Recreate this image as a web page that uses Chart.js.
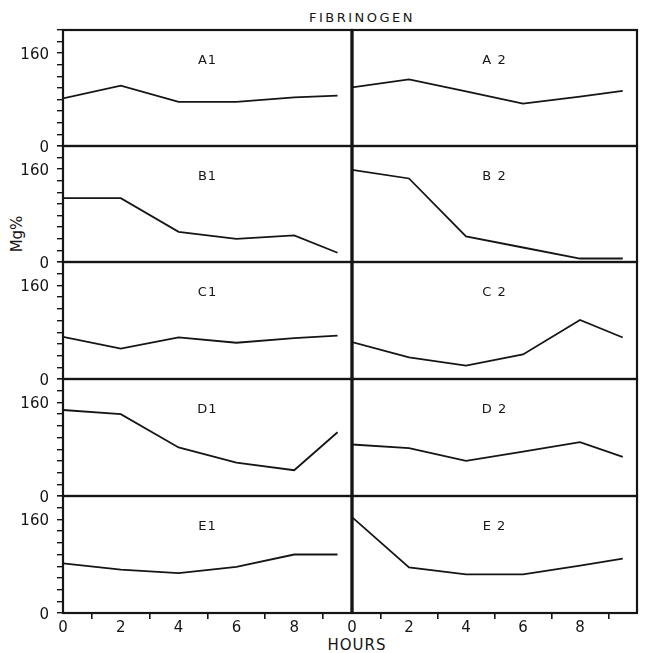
<!DOCTYPE html>
<html>
<head>
<meta charset="utf-8">
<script src="https://cdn.jsdelivr.net/npm/chart.js@4.4.0/dist/chart.umd.min.js"></script>
<style>
  body { margin: 0; background: #fff; }
  #wrap { position: relative; width: 646px; height: 653px; font-family: "DejaVu Sans", sans-serif; color: #151515; overflow: hidden; }
  #wrap canvas { position: absolute; }
  .txt { position: absolute; white-space: nowrap; transform: translate(-50%, -50%); }
  #title { left: 362px; top: 17px; font-size: 13px; letter-spacing: 2.5px; }
  #xlab { left: 357px; top: 645px; font-size: 15px; letter-spacing: 1px; }
  #ylab { left: 17px; top: 234px; font-size: 15px; transform: translate(-50%, -50%) rotate(-90deg); }
</style>
</head>
<body>
<div id="wrap">
  <div class="txt" id="title">FIBRINOGEN</div>
  <div class="txt" id="ylab">Mg%</div>
  <div class="txt" id="xlab">HOURS</div>
</div>
<script>
// sampling times (hours)
const hours = [0, 2, 4, 6, 8, 9.5];

// fibrinogen, mg% - left column (1) and right column (2)
const seriesA1 = [82, 104, 76, 76, 84, 87];
const seriesA2 = [101, 115, 94, 73, 85, 95];
const seriesB1 = [110, 110, 52, 40, 46, 16];
const seriesB2 = [159, 144, 44, 25, 6, 6];
const seriesC1 = [72, 52, 71, 62, 70, 74];
const seriesC2 = [63, 37, 23, 42, 101, 71];
const seriesD1 = [147, 140, 83, 57, 44, 109];
const seriesD2 = [88, 82, 60, 76, 92, 67];
const seriesE1 = [85, 74, 68, 79, 100, 100];
const seriesE2 = [164, 78, 66, 66, 81, 93];

const panelLabels = [["A1", "A 2"], ["B1", "B 2"], ["C1", "C 2"], ["D1", "D 2"], ["E1", "E 2"]];
const panelSeries = [
    [seriesA1, seriesA2],
    [seriesB1, seriesB2],
    [seriesC1, seriesC2],
    [seriesD1, seriesD2],
    [seriesE1, seriesE2]
];
const yLabelValues = [0, 160];
const xLabelValues = [0, 2, 4, 6, 8];

// layout of the figure
const rowEdges = [30, 146, 262, 379, 496, 613];
const leftX = 63;
const midX = 352;
const rightX = 637;
const pad = 20;
const xAxisH = 40;
const fontFamily = '"DejaVu Sans", sans-serif';
const ink = '#151515';

const framePlugin = {
    id: 'frame',
    afterDraw(chart, args, opts) {
        const { ctx, chartArea: a } = chart;
        ctx.save();
        ctx.strokeStyle = ink;
        ctx.lineWidth = 2.2;
        ctx.strokeRect(a.left, a.top, a.right - a.left, a.bottom - a.top);
        if (opts.col === 1) {
            ctx.lineWidth = 3.2;
            ctx.beginPath();
            ctx.moveTo(a.left, a.top - 1);
            ctx.lineTo(a.left, a.bottom + 1);
            ctx.stroke();
        }
        ctx.fillStyle = ink;
        ctx.font = '13px ' + fontFamily;
        ctx.letterSpacing = '1px';
        ctx.textAlign = 'center';
        ctx.textBaseline = 'middle';
        ctx.fillText(opts.label, (a.left + a.right) / 2, a.top + 31);
        ctx.restore();
    }
};

function makePanel(row, col) {
    const wrap = document.getElementById('wrap');
    const canvas = document.createElement('canvas');
    const bottomRow = row === rowEdges.length - 2;
    const rowH = rowEdges[row + 1] - rowEdges[row];

    const left = col === 0 ? 0 : midX - pad;
    const width = col === 0 ? midX + pad : rightX - midX + 2 * pad;
    const top = rowEdges[row] - pad;
    const height = rowH + pad + (bottomRow ? xAxisH : pad);

    canvas.width = width;
    canvas.height = height;
    canvas.style.left = left + 'px';
    canvas.style.top = top + 'px';
    canvas.style.width = width + 'px';
    canvas.style.height = height + 'px';
    wrap.appendChild(canvas);

    const values = panelSeries[row][col];

    new Chart(canvas.getContext('2d'), {
        type: 'line',
        data: {
            datasets: [{
                data: hours.map((h, i) => ({ x: h, y: values[i] })),
                borderColor: ink,
                borderWidth: 1.8,
                pointRadius: 0,
                tension: 0,
                fill: false
            }]
        },
        options: {
            responsive: false,
            animation: false,
            layout: {
                padding: {
                    left: col === 0 ? 0 : pad,
                    right: pad,
                    top: pad,
                    bottom: bottomRow ? 0 : pad
                }
            },
            plugins: {
                legend: { display: false },
                tooltip: { enabled: false },
                frame: { label: panelLabels[row][col], col: col }
            },
            scales: {
                x: {
                    type: 'linear',
                    min: 0,
                    max: 10,
                    display: bottomRow,
                    afterFit: (s) => { if (bottomRow) s.height = xAxisH; },
                    border: { display: false },
                    grid: {
                        drawOnChartArea: false,
                        tickLength: 6,
                        lineWidth: 1.6,
                        color: (c) => (c.tick && c.tick.value % 2 === 1) ? ink : 'rgba(0,0,0,0)'
                    },
                    ticks: {
                        stepSize: 1,
                        autoSkip: false,
                        maxRotation: 0,
                        padding: 0,
                        color: ink,
                        font: { size: 15, family: fontFamily },
                        callback: (v) => xLabelValues.includes(v) ? String(v) : ''
                    }
                },
                y: {
                    min: 0,
                    max: 200,
                    display: col === 0,
                    afterFit: (s) => { if (col === 0) s.width = leftX; },
                    border: { display: false },
                    grid: {
                        drawOnChartArea: false,
                        tickLength: 6,
                        lineWidth: 1.4,
                        color: ink
                    },
                    ticks: {
                        stepSize: 20,
                        autoSkip: false,
                        padding: 8,
                        labelOffset: 2,
                        color: ink,
                        font: { size: 15, family: fontFamily },
                        callback: (v) => yLabelValues.includes(v) ? String(v) : ''
                    }
                }
            }
        },
        plugins: [framePlugin]
    });
}

for (let r = 0; r < panelSeries.length; r++) {
    makePanel(r, 0);
    makePanel(r, 1);
}
</script>
</body>
</html>
